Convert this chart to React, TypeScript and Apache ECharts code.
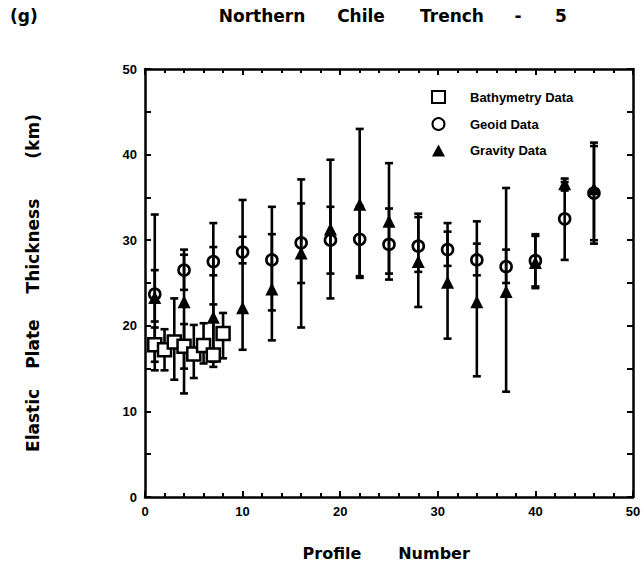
import React, { useEffect, useRef } from "react";
import * as echarts from "echarts";

// Bathymetry estimates (profiles 1-8)
const bathyProfiles = [1, 2, 3, 4, 5, 6, 7, 8];
const bathyValues = [17.8, 17.2, 18.1, 17.6, 16.7, 17.7, 16.6, 19.1];
const bathyLow = [15.8, 14.8, 13.7, 15.0, 13.9, 15.6, 15.2, 16.2];
const bathyHigh = [19.8, 19.6, 23.2, 20.2, 20.1, 20.3, 22.5, 21.5];

// Geoid and gravity estimates share the same profiles
const profiles = [1, 4, 7, 10, 13, 16, 19, 22, 25, 28, 31, 34, 37, 40, 43, 46];
const geoidValues = [23.7, 26.5, 27.5, 28.6, 27.7, 29.7, 30.0, 30.1, 29.5, 29.3, 28.9, 27.7, 26.9, 27.6, 32.5, 35.5];
const geoidLow = [20.5, 24.2, 25.9, 27.3, 21.8, 25.0, 26.1, 25.8, 26.1, 26.3, 27.0, 25.9, 25.0, 24.4, 27.7, 29.6];
const geoidHigh = [26.5, 28.9, 29.2, 30.4, 30.7, 34.3, 33.9, 34.0, 33.7, 32.7, 31.0, 29.6, 28.9, 30.7, 36.8, 41.4];
const gravityValues = [23.3, 22.8, 21.0, 22.1, 24.3, 28.5, 31.3, 34.2, 32.2, 27.5, 25.1, 22.8, 24.0, 27.4, 36.6, 36.0];
const gravityLow = [14.8, 12.1, 15.8, 17.2, 18.3, 19.8, 23.2, 25.6, 25.4, 22.2, 18.5, 14.1, 12.3, 24.6, 35.8, 30.0];
const gravityHigh = [33.0, 28.3, 32.0, 34.7, 33.9, 37.1, 39.4, 43.0, 39.0, 33.1, 32.0, 32.2, 36.1, 30.5, 37.2, 41.0];

const FONT = "'Liberation Sans', Arial, sans-serif";
const WIDE = "'DejaVu Sans', 'Liberation Sans', sans-serif";

function errorBars(name: string, xs: number[], lows: number[], highs: number[]) {
  return {
    type: "custom",
    name,
    z: 2,
    silent: true,
    data: xs.map((x, i) => [x, lows[i], highs[i]]),
    encode: { x: 0, y: [1, 2] },
    renderItem: (_params: any, api: any) => {
      const x = api.value(0);
      const top = api.coord([x, api.value(2)]);
      const bot = api.coord([x, api.value(1)]);
      const w = 4;
      const style = { stroke: "#000", lineWidth: 2.6 };
      return {
        type: "group",
        children: [
          { type: "line", shape: { x1: top[0], y1: top[1], x2: bot[0], y2: bot[1] }, style },
          { type: "line", shape: { x1: top[0] - w, y1: top[1], x2: top[0] + w, y2: top[1] }, style },
          { type: "line", shape: { x1: bot[0] - w, y1: bot[1], x2: bot[0] + w, y2: bot[1] }, style },
        ],
      };
    },
  };
}

function axisBase(showLabel: boolean, minorSplit: number, majorLen: number, minorLen: number) {
  return {
    type: "value",
    min: 0,
    max: 50,
    interval: 10,
    axisLine: { show: true, onZero: false, lineStyle: { color: "#000", width: 2.5 } },
    axisTick: { show: true, inside: true, length: majorLen, lineStyle: { color: "#000", width: 2 } },
    minorTick: { show: true, splitNumber: minorSplit, length: minorLen, lineStyle: { color: "#000", width: 2 } },
    splitLine: { show: false },
    minorSplitLine: { show: false },
    axisLabel: {
      show: showLabel,
      color: "#000",
      fontFamily: FONT,
      fontWeight: "bold",
      fontSize: 13,
      margin: 8,
    },
  };
}

export default function App() {
  const ref = useRef<HTMLDivElement>(null);

  useEffect(() => {
    document.body.style.margin = "0";
    const chart = echarts.init(ref.current!, undefined, { renderer: "svg" });

    const wordStyle = (size: number) => ({
      fill: "#000",
      fontFamily: WIDE,
      fontWeight: "bold",
      fontSize: size,
      align: "center",
      verticalAlign: "middle",
    });

    const titleWords: [string, number][] = [
      ["Northern", 262],
      ["Chile", 361],
      ["Trench", 452],
      ["-", 518],
      ["5", 561],
    ];
    const xNameWords: [string, number][] = [
      ["Profile", 332],
      ["Number", 434],
    ];
    const nameWord = { fontFamily: WIDE, fontWeight: "bold", fontSize: 17, color: "#000" };

    chart.setOption({
      animation: false,
      backgroundColor: "#fff",
      grid: { left: 145, right: 11, top: 69, bottom: 75, containLabel: false },
      xAxis: [
        { ...axisBase(true, 5, 6, 4), position: "bottom" },
        { ...axisBase(false, 5, 6, 4), position: "top" },
      ],
      yAxis: [
        {
          ...axisBase(true, 2, 6, 6),
          position: "left",
          name: "{w|Elastic}{g1| }{w|Plate}{g2| }{w|Thickness}{g3| }{w|(km)}",
          nameLocation: "middle",
          nameRotate: 90,
          nameGap: 104,
          nameTextStyle: {
            rich: {
              w: nameWord,
              g1: { width: 20 },
              g2: { width: 26 },
              g3: { width: 40 },
            },
          },
        },
        { ...axisBase(false, 2, 6, 6), position: "right" },
      ],
      legend: {
        show: true,
        orient: "vertical",
        left: 431,
        top: 90,
        padding: 0,
        itemGap: 13,
        itemWidth: 13,
        itemHeight: 12,
        data: [
          { name: "Bathymetry Data", icon: "rect" },
          { name: "Geoid Data", icon: "circle" },
          { name: "Gravity Data", icon: "triangle" },
        ],
        textStyle: {
          color: "#000",
          fontFamily: FONT,
          fontWeight: "bold",
          fontSize: 13,
          padding: [0, 0, 0, 20],
        },
      },
      graphic: [
        { type: "text", x: 10, y: 16, style: { ...wordStyle(17), align: "left", text: "(g)" } },
        ...titleWords.map(([t, cx]) => ({ type: "text", x: cx, y: 16, style: { ...wordStyle(17), text: t } })),
        ...xNameWords.map(([t, cx]) => ({ type: "text", x: cx, y: 553, style: { ...wordStyle(16), text: t } })),
      ],
      series: [
        errorBars("bathyErr", bathyProfiles, bathyLow, bathyHigh),
        errorBars("geoidErr", profiles, geoidLow, geoidHigh),
        errorBars("gravityErr", profiles, gravityLow, gravityHigh),
        {
          type: "scatter",
          name: "Bathymetry Data",
          z: 3,
          symbol: "rect",
          symbolSize: 13,
          itemStyle: { color: "#fff", borderColor: "#000", borderWidth: 2.5, opacity: 1 },
          data: bathyProfiles.map((x, i) => [x, bathyValues[i]]),
        },
        {
          type: "scatter",
          name: "Geoid Data",
          z: 4,
          symbol: "circle",
          symbolSize: 11,
          itemStyle: { color: "rgba(255,255,255,0)", borderColor: "#000", borderWidth: 2.6, opacity: 1 },
          data: profiles.map((x, i) => [x, geoidValues[i]]),
        },
        {
          type: "scatter",
          name: "Gravity Data",
          z: 5,
          symbol: "triangle",
          symbolSize: 13,
          itemStyle: { color: "#000", opacity: 1 },
          data: profiles.map((x, i) => [x, gravityValues[i]]),
        },
      ],
    });

    return () => chart.dispose();
  }, []);

  return (
    <div
      ref={ref}
      style={{ position: "absolute", left: 0, top: 0, width: 644, height: 572, background: "#fff" }}
    />
  );
}
